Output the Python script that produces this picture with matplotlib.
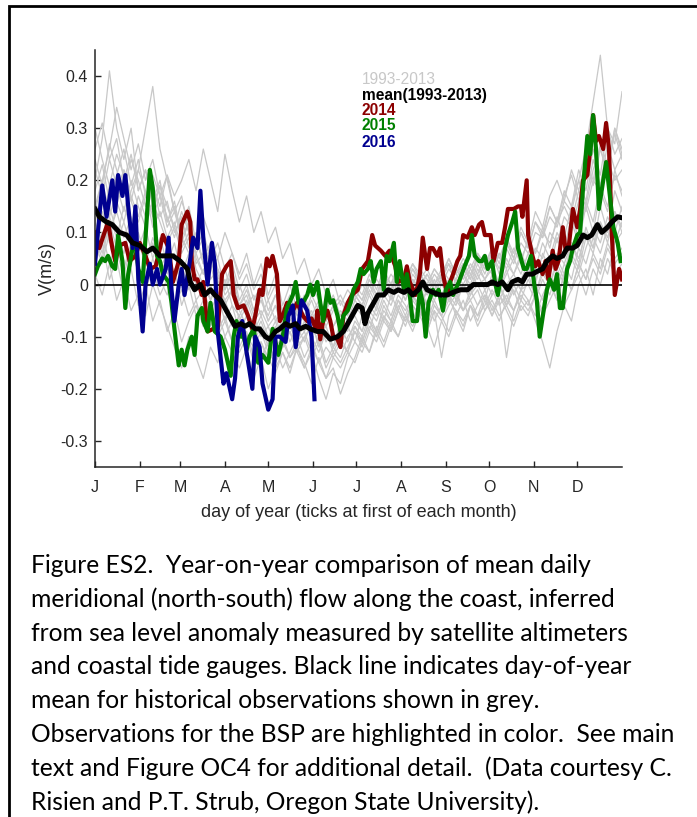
import numpy as np
import matplotlib
matplotlib.use('Agg')
import matplotlib.pyplot as plt
from matplotlib.lines import Line2D

# first day of each month (day of year) and month letters
month_days = [1, 32, 60, 91, 121, 152, 182, 213, 244, 274, 305, 335]
month_labels = ['J', 'F', 'M', 'A', 'M', 'J', 'J', 'A', 'S', 'O', 'N', 'D']

ytick_vals = [-0.3, -0.2, -0.1, 0, 0.1, 0.2, 0.3, 0.4]
ytick_labels = ['-0.3', '-0.2', '-0.1', '0', '0.1', '0.2', '0.3', '0.4']

# historical years (grey), cm/s, one value every 5 days from Jan 1
grey_step = 5
grey_runs = [
    [20, 28, 41, 30, 24, 30, 18, 22, 16, 20, 12, 15, 8, 12, 5, 2, 4, -2, 1, -4, -6, -3, -7, -5, -8, -6, -11, -7, -5, -9, -6, -10, -8, -12, -7, -9, -4, -6, -2, -5, 0, -3, 1, -2, 2, 0, -2, 1, -3, 0, -2, 2, -1, 3, 1, 4, 0, 5, 2, 6, 3, 7, 5, 10, 8, 13, 11, 16, 14, 20, 18, 24, 20, 22],
    [10, 14, 8, 16, 12, 18, 22, 30, 38, 26, 20, 14, 17, 10, 6, 9, 3, 5, -1, 2, -4, -2, -6, -3, -7, -4, -9, -5, -8, -11, -7, -12, -9, -13, -10, -8, -11, -6, -9, -4, -7, -2, -5, -1, -3, 0, -4, -2, 1, -3, -1, -5, -2, 0, -3, 2, -1, 3, -2, 1, 4, 0, 6, 3, 9, 5, 12, 8, 15, 10, 18, 14, 22, 17],
    [2, -2, 4, -3, 1, -5, -2, -6, 0, -4, -8, -12, -16, -10, -14, -18, -12, -15, -10, -13, -16, -12, -18, -14, -20, -16, -13, -17, -12, -15, -19, -14, -18, -16, -21, -17, -14, -10, -13, -8, -11, -7, -10, -6, -9, -5, -8, -12, -7, -10, -6, -9, -4, -7, -3, -6, -2, -5, -8, -4, -6, -2, -5, 0, -3, 2, -1, 4, 1, 6, 3, 8, 5, 7],
    [16, 12, 19, 15, 22, 17, 13, 18, 11, 14, 9, 12, 7, 10, 4, 6, 1, 3, -2, 0, -4, -1, -5, -3, -6, -2, -5, -8, -4, -6, -3, -7, -5, -8, -6, -4, -2, -4, 0, -3, 1, -1, 2, 0, 3, 1, -1, 2, 0, 3, 1, 4, 2, 5, 3, 6, 2, 7, 4, 8, 6, 10, 9, 13, 11, 16, 14, 20, 26, 35, 44, 30, 25, 28],
    [22, 17, 24, 19, 14, 20, 15, 11, 16, 12, 8, 11, 6, 9, 3, 0, -3, 0, -5, -8, -6, -10, -12, -9, -13, -15, -11, -14, -12, -16, -13, -18, -22, -17, -19, -14, -11, -13, -9, -11, -7, -9, -5, -8, -4, -6, -3, -7, -4, -2, -6, -3, -7, -4, -1, -5, -2, -4, 0, -3, 1, -2, 2, 0, 4, 1, 6, 3, 9, 6, 12, 8, 14, 10],
    [12, 8, 15, 10, 6, 12, 8, 4, 9, 5, 2, 6, 0, 3, -3, -1, -5, -2, -7, -4, -9, -6, -11, -8, -12, -9, -7, -11, -8, -6, -10, -7, -11, -9, -12, -8, -6, -9, -5, -7, -3, -6, -2, -4, -7, -3, -9, -5, -14, -6, -3, -5, -1, -4, -2, -6, -3, -14, -5, -2, -4, 0, -3, 2, -1, 4, 1, 7, 4, 9, 6, 11, 8, 10],
    [18, 23, 16, 21, 26, 19, 24, 17, 20, 13, 16, 10, 13, 7, 9, 4, 6, 1, 3, -2, 0, -4, -2, -6, -3, -7, -5, -8, -4, -7, -5, -9, -6, -8, -5, -7, -3, -5, -1, -4, 0, -2, 2, -1, 3, 0, 2, -1, 1, 4, 0, 3, 1, 5, 2, 6, 3, 8, 5, 10, 7, 12, 9, 15, 12, 18, 15, 22, 18, 26, 21, 30, 27, 37],
    [8, 4, 10, 6, 2, 7, 3, 0, 5, 1, -2, 3, -4, 0, -6, -3, -8, -5, -10, -7, -12, -9, -14, -11, -15, -12, -16, -13, -10, -14, -11, -15, -12, -14, -11, -13, -9, -11, -7, -10, -6, -8, -4, -7, -3, -5, -8, -4, -6, -3, -5, -8, -4, -6, -2, -4, -7, -3, -5, -1, -3, -6, -2, 1, -3, 2, -1, 4, 1, 5, 2, 7, 4, 6],
    [26, 31, 24, 28, 20, 25, 18, 22, 15, 19, 12, 16, 9, 6, 10, 4, 7, 2, -1, 3, -3, 0, -5, -2, -7, -4, -8, -5, -3, -6, -2, -5, -7, -4, -6, -3, 0, -2, 2, -1, 3, 0, 4, 1, -1, 2, 0, 3, 1, 5, 2, 0, 3, 1, 4, 2, 6, 3, 7, 4, 9, 6, 11, 7, 13, 9, 15, 20, 16, 24, 19, 27, 22, 25],
    [6, 10, 4, 8, 12, 7, 10, 5, 8, 3, 6, 1, 4, -1, 2, -3, 0, -5, -3, -7, -9, -6, -10, -7, -11, -8, -12, -9, -13, -10, -8, -11, -9, -12, -10, -13, -8, -10, -6, -9, -4, -7, -3, -5, -2, -4, -1, -3, 0, -2, 1, -1, 2, 0, 1, -2, 0, -4, -1, -5, -3, -7, -11, -16, -9, -4, -7, 0, 3, -2, 5, 2, 8, 12],
    [14, 20, 26, 34, 28, 22, 27, 20, 24, 17, 21, 14, 11, 15, 8, 5, 8, 3, 0, 4, -1, 2, -3, 0, -5, -2, -6, -3, -1, -4, 0, -3, -5, -2, -6, -4, -1, -3, 1, -2, 2, -1, 3, 0, 4, 1, 3, 0, 2, 5, 2, 4, 1, 6, 3, 7, 4, 9, 5, 10, 7, 12, 10, 15, 12, 17, 21, 16, 23, 19, 26, 22, 29, 24],
    [10, 6, 13, 9, 15, 11, 17, 13, 19, 15, 21, 17, 20, 24, 18, 26, 20, 14, 25, 18, 12, 17, 10, 14, 8, 11, 5, 8, 2, 5, 0, 3, -2, 1, -4, -1, -3, 0, -2, 1, -1, 2, 0, -3, 1, -1, 2, 0, 3, 1, -2, 2, 0, 4, 1, 3, -1, 2, 5, 2, 6, 3, 8, 5, 10, 7, 13, 9, 16, 12, 19, 15, 21, 18],
    [12, 16, 10, 14, 9, 13, 7, 11, 5, 9, 4, 8, 2, 6, 0, 3, -3, 1, -4, -1, -7, -4, -9, -6, -10, -7, -12, -8, -11, -7, -10, -13, -9, -12, -8, -11, -7, -9, -4, -6, -2, -4, 0, -3, 1, -1, -4, 0, -2, 1, -3, 0, -2, 2, -1, 1, -3, 0, 2, -1, 3, 1, 4, 2, 6, 4, 8, 5, 10, 7, 12, 9, 14, 11],
    [24, 19, 27, 22, 18, 24, 20, 15, 21, 17, 13, 9, 14, 10, 6, 2, 5, 0, -3, -1, -5, -8, -6, -10, -8, -12, -10, -14, -11, -9, -13, -10, -15, -12, -14, -10, -8, -11, -7, -9, -5, -7, -3, -6, -2, -5, -1, -4, -6, -2, -4, 0, -3, -1, -5, -2, 0, -3, 1, -1, 2, -2, 3, 0, 5, 2, 8, 4, 11, 7, 15, 10, 18, 14],
    [4, 8, 1, 5, -2, 3, -4, 0, -7, -3, -9, -5, -11, -7, -4, -8, -6, -10, -7, -11, -13, -10, -15, -11, -14, -17, -13, -16, -12, -10, -14, -11, -16, -13, -15, -12, -9, -12, -8, -10, -6, -9, -5, -7, -4, -6, -9, -5, -7, -4, -2, -5, -3, -6, -4, -1, -4, -2, -5, -1, 0, -3, 1, -2, 3, 0, 5, 2, 7, 11, 8, 13, 10, 15],
    [15, 20, 13, 18, 22, 16, 12, 17, 14, 19, 15, 11, 16, 12, 8, 13, 9, 5, 10, 6, 2, 6, 0, 4, -2, 2, -4, 0, -5, -2, -6, -3, -7, -4, -2, -5, -1, -3, 1, -2, 2, 0, 3, 1, 4, 2, 0, 3, 1, 4, 2, 5, 3, 6, 4, 7, 5, 9, 6, 11, 8, 14, 11, 17, 20, 16, 22, 18, 24, 20, 27, 23, 30, 26],
    [9, 5, 12, 7, 3, 8, 4, -1, 3, -2, 1, -4, -1, -6, -3, -8, -5, -9, -6, -11, -8, -12, -9, -14, -11, -15, -12, -9, -13, -16, -12, -15, -18, -14, -16, -13, -15, -11, -13, -9, -12, -8, -10, -6, -8, -5, -7, -3, -6, -9, -5, -7, -4, -8, -5, -3, -6, -4, -7, -3, -5, -2, -6, -3, 0, -4, -1, 2, -2, 3, 0, 5, 2, 4],
    [30, 24, 19, 25, 21, 16, 22, 18, 13, 17, 11, 14, 9, 12, 7, 10, 5, 8, 3, 6, 1, 4, -1, 2, -3, 0, -5, -2, -6, -3, -7, -4, -8, -5, -3, -6, -2, -4, 0, -2, 1, -1, 2, -1, 0, 3, 1, -1, 2, 0, 3, 1, 4, 2, 5, 3, 6, 4, 2, 5, 8, 6, 10, 8, 12, 15, 12, 18, 15, 22, 26, 21, 30, 25],
]

# day-of-year mean 1993-2013 (cm/s)
mean_day = [1, 4, 9, 13, 18, 23, 27, 32, 37, 41, 46, 51, 55, 60, 65, 67, 70, 74, 77, 81,
            84, 88, 91, 95, 98, 102, 105, 108, 112, 115, 119, 122, 126, 129, 133, 136, 140, 143, 147, 150,
            155, 159, 164, 169, 173, 176, 179, 183, 186, 188, 190, 194, 197, 201, 204, 208, 211, 215, 218, 221,
            225, 228, 231, 235, 240, 245, 249, 254, 259, 263, 268, 273, 276, 280, 283, 287, 290, 294, 297, 300,
            304, 307, 311, 314, 318, 321, 325, 328, 332, 335, 339, 342, 345, 349, 352, 356, 359, 363, 366]
mean_v = [14.5, 13, 12, 11.5, 10, 9.5, 8, 7.5, 6.3, 7, 5.5, 5.5, 5.5, 4.5, 3, 0.5, -1, 0, -2, -1,
          -2, -3, -4.5, -6.5, -8, -7.5, -8, -7.5, -8.5, -8.5, -10, -10.5, -9, -8.5, -7.5, -8, -7.5, -8.5, -8, -8.5,
          -9, -9, -10.5, -10, -9, -7.5, -6, -4, -4.5, -7.5, -5.5, -3.5, -2, -2, -1, -1.5, -1, -1.5, -1, -2,
          -1, 0.5, -1, -1.5, -2, -2, -1.5, -1, -1, 0, 0, 0, 0.5, 0, 0.5, -1, 0.5, 1, 0.5, 2,
          2, 2.5, 3, 4.5, 5.5, 5, 5.5, 7, 7, 7.5, 9.5, 9, 9.5, 11.5, 10, 11, 12, 13, 12.8]

y2014_day = [1, 4, 7, 10, 13, 15, 18, 22, 25, 29, 32, 36, 39, 43, 46, 48, 52, 55, 59, 61,
             65, 67, 68, 70, 72, 75, 76, 79, 83, 86, 89, 92, 95, 97, 100, 104, 107, 110, 112, 115,
             117, 120, 122, 124, 127, 129, 131, 134, 138, 141, 145, 148, 151, 154, 155, 157, 159, 162, 164, 166,
             169, 171, 173, 176, 179, 183, 186, 190, 193, 195, 199, 202, 205, 209, 211, 215, 217, 219, 223, 225,
             226, 228, 231, 233, 235, 238, 240, 242, 245, 247, 249, 252, 254, 256, 259, 262, 264, 267, 269, 271,
             275, 277, 280, 283, 285, 287, 291, 294, 296, 297, 300, 301, 304, 306, 308, 311, 313, 315, 318, 320,
             322, 325, 327, 329, 332, 335, 337, 339, 342, 344, 346, 348, 350, 353, 355, 357, 359, 361, 364, 366]
y2014_v = [10, 7, 9.5, 12, 7, 4.5, 7.5, 8, 4.5, 5.5, 8, 5.5, 3, 3.5, 7, 9.5, 7, 0.5, 4.5, 11.5,
           14, 12, 4.5, 1, 1, -2, 0.5, -9, -8.5, -8.5, 2, 3.5, 4.5, -2, -4.5, -4, -6, -8.5, -6, -1,
           -2, 5, 3.5, 5.5, 2, -7, -6, -3.5, -5, -3.5, -6, -7, -6.5, -8.5, -5, -10.5, -7, -5, -7, -10,
           -10.5, -12, -6, -3.5, -2, -1, 3, 4.5, 9.5, 7.5, 6.5, 5.5, 6.5, 3.5, 0.5, 1, 3.5, 0.5, -2, 0.5,
           2, 9, 3, 7, 7, 5.5, 7, 2, -2, 0.5, 2, 4.5, 5.5, 9.5, 9, 11, 9.5, 11.5, 12, 9.5,
           9.5, 4.5, 8, 8, 11, 14.5, 14.5, 15, 15, 13, 20, 9.5, 5.5, 3.5, 4.5, 2, 4.5, 1, 6.5, 3,
           4.5, 11, 6.5, 7, 14.5, 11, 14.5, 20, 21, 26, 32.5, 27.5, 28.5, 26, 31, 26, 9.5, -2, 3, 1]

y2015_day = [1, 3, 6, 8, 10, 13, 15, 17, 20, 22,
             24, 27, 29, 31, 34, 37, 39, 41, 44, 46,
             48, 52, 54, 56, 59, 61, 63, 65, 68, 70,
             72, 75, 76, 79, 81, 84, 88, 91, 95, 97,
             99, 102, 104, 106, 108, 111, 114, 117, 121, 124,
             126, 128, 131, 134, 138, 140, 142, 145, 148, 150,
             152, 155, 157, 159, 162, 164, 166, 169, 171, 173,
             176, 178, 180, 183, 185, 187, 190, 192, 194, 196,
             199, 201, 203, 205, 208, 210, 212, 215, 217, 219,
             221, 224, 226, 228, 230, 232, 235, 237, 239, 242,
             244, 247, 249, 253, 255, 257, 260, 262, 264, 267,
             269, 271, 273, 276, 278, 280, 283, 285, 287, 290,
             292, 294, 298, 300, 303, 305, 307, 309, 312, 314,
             316, 319, 321, 323, 325, 328, 330, 332, 335, 337,
             339, 342, 344, 346, 348, 350, 353, 355, 357, 360,
             363, 365]
y2015_v = [2, 3.5, 5, 4.5, 5.5, 3.5, 3, 9.5, 4.5, -4.5,
           2, 7, 8, 3, 0.5, 13.5, 22, 18.5, 5.5, 4.5,
           2, 0.5, -3.5, -8.5, -15.5, -12.5, -15.5, -12.5, -10, -13.5,
           -6, -4.5, -7, -9, -3.5, -9, -10, -12.5, -17.5, -10,
           -7, -10, -10, -12.5, -10, -8.5, -15, -13.5, -15, -8.5,
           -11, -13.5, -10, -4.5, -2, 0.5, -3.5, -3.5, -2, 0,
           -2, 0.5, -3.5, -7, -1, -3.5, -3, -6, -9, -6,
           -5, -3.5, -1, 0.5, 3, 2, 3, 4.5, 0.5, 3,
           4.5, -1, 5.5, 4.5, 8, 0.5, 4.5, -1, 2, -2,
           -7, -7, -1, -3.5, -10, -3.5, -1, -2, -1, -5,
           -1, 0.5, -2, 0.5, 2, 3.5, 5.5, 9.5, 5.5, 4.5,
           4.5, 5.5, 3, 4.5, 0.5, -2, 3, 7, 9.5, 12,
           14, 7, 3, 3, 5.5, 0.5, -3, -10, -4.5, -1,
           1, -1, 2, -4.5, -4.5, 3, 4.5, 7, 9.5, 10,
           18.5, 28.5, 25, 32.5, 26, 14.5, 20, 23.5, 18.5, 11,
           8, 4.5]

y2016_day = [1, 6, 9, 13, 15, 17, 20, 22, 24, 27, 29, 31, 34, 36, 39, 41, 44, 46, 50, 52,
             54, 56, 59, 61, 63, 67, 69, 72, 74, 76, 79, 82, 84, 86, 90, 92, 96, 98, 100, 103,
             106, 110, 112, 115, 117, 121, 124, 126, 129, 133, 135, 138, 140, 142, 144, 148, 151, 153]
y2016_v = [4, 19, 13, 20, 14, 21, 17, 21, 15, 7, 15, 1, -9, 0, 4, 0, 3, 0, 3, 9,
           -1, -7, 0, 3, -2, 5, 9, 7, 18, 9, 0, 8, 4, -9, -19, -17, -22, -18, -10, -7,
           -13, -20, -10, -12, -19, -24, -22, -10, -10, -11, -6, -4, -12, -8, -3, -5, -10, -22]

legend_labels = ['1993-2013', 'mean(1993-2013)', '2014', '2015', '2016']
legend_colors = ['#c8c8c8', 'black', '#8c0000', '#008000', '#000090']

caption_lines = [
    'Figure ES2.  Year-on-year comparison of mean daily',
    'meridional (north-south) flow along the coast, inferred',
    'from sea level anomaly measured by satellite altimeters',
    'and coastal tide gauges. Black line indicates day-of-year',
    'mean for historical observations shown in grey.',
    'Observations for the BSP are highlighted in color.  See main',
    'text and Figure OC4 for additional detail.  (Data courtesy C.',
    'Risien and P.T. Strub, Oregon State University).',
]

W, H = 697, 817
plt.rcParams['font.family'] = ['Liberation Sans', 'DejaVu Sans']
fig = plt.figure(figsize=(W / 100, H / 100), dpi=100)
ax = fig.add_axes([95 / W, 1 - 467 / H, 527 / W, 417 / H])

for run in grey_runs:
    d = 1 + grey_step * np.arange(len(run))
    ax.plot(d, np.array(run) / 100, color='#c8c8c8', lw=0.9)

ax.axhline(0, color='black', lw=1.2)

series = [(y2014_day, y2014_v, legend_colors[2]),
          (y2015_day, y2015_v, legend_colors[3]),
          (y2016_day, y2016_v, legend_colors[4])]
for d, v, c in series:
    ax.plot(d, np.array(v) / 100, color=c, lw=3, solid_joinstyle='round')
ax.plot(mean_day, np.array(mean_v) / 100, color='black', lw=3.6, solid_joinstyle='round')

ax.set_xlim(1, 366)
ax.set_ylim(-0.35, 0.45)
ax.set_xticks(month_days)
ax.set_xticklabels(month_labels)
ax.set_yticks(ytick_vals)
ax.set_yticklabels(ytick_labels)
for s in ['top', 'right']:
    ax.spines[s].set_visible(False)
for s in ['left', 'bottom']:
    ax.spines[s].set_color('#262626')
    ax.spines[s].set_linewidth(1.1)
ax.tick_params(direction='in', length=4, width=1, colors='#262626', labelsize=11.5)
ax.tick_params(axis='x', pad=9)
ax.tick_params(axis='y', pad=5)
ax.set_xlabel('day of year (ticks at first of each month)', fontsize=13, color='#262626', labelpad=7)
ax.set_ylabel('V(m/s)', fontsize=13, color='#262626')
ax.yaxis.set_label_coords(-0.074, 0.475)

ys = [0.930, 0.890, 0.856, 0.818, 0.779]
for lab, col, y in zip(legend_labels, legend_colors, ys):
    ax.text(0.5066, y, lab, transform=ax.transAxes, color=col, fontsize=11.2,
            fontweight='normal' if lab == '1993-2013' else 'bold', va='center', ha='left')

# page frame (left and top rules)
fig.add_artist(Line2D([9 / W, 9 / W, 1], [0, 1 - 5.8 / H, 1 - 5.8 / H],
                      transform=fig.transFigure, color='black', lw=2, solid_joinstyle='miter'))

caps = []
for i, line in enumerate(caption_lines):
    caps.append(fig.text(31 / W, 1 - (573 + i * 33.8) / H, line, family=['Lato', 'DejaVu Sans'],
                         fontsize=15, color='black', ha='left', va='baseline'))
fig.canvas.draw()
k = 646 / caps[5].get_window_extent().width
for t in caps:
    t.set_fontsize(15 * k)

fig.savefig('out.png', dpi=100)
